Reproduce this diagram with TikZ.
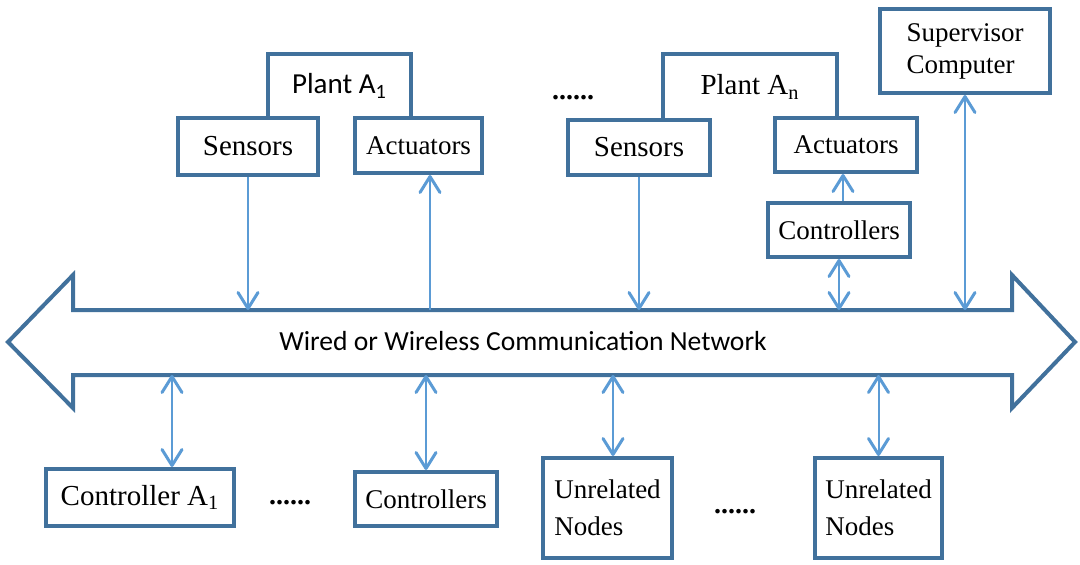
\documentclass[tikz,border=0pt]{standalone}
\usepackage{fontspec}
\setmainfont{Liberation Serif}
\newfontfamily\calibri{Carlito}
\usetikzlibrary{arrows.meta}
\definecolor{boxblue}{HTML}{41719C}
\definecolor{linkblue}{HTML}{5B9BD5}

\begin{document}
\begin{tikzpicture}[x=0.5pt,y=-0.5pt,
  >={Straight Barb[length=8pt,width=10pt,line width=1.5pt,round]},
  box/.style={draw=boxblue, line width=2pt, fill=white, inner sep=2pt},
  plant/.style={inner sep=2pt},
  big/.style={font=\fontsize{14.5}{17}\selectfont},
  small/.style={font=\fontsize{13.5}{16}\selectfont},
  link/.style={draw=linkblue, line width=1pt},
  dots/.style={font=\bfseries\fontsize{14}{16}\selectfont}]
\useasboundingbox (0,0) rectangle (1080,564);

% network
\draw[boxblue, line width=2pt, fill=white]
  (8,342) -- (73,275) -- (73,310) -- (1012,310) -- (1012,275) -- (1075,342)
  -- (1012,408) -- (1012,375) -- (73,375) -- (73,408) -- cycle;
\node[font=\calibri\fontsize{13.8}{16}\selectfont] (net) at (523,341) {Wired or Wireless Communication Network};
\coordinate (nettop) at (540,310);
\coordinate (netbot) at (540,375);

% plants
\node[plant, font=\calibri\fontsize{14.5}{17}\selectfont, minimum width=71.5pt, minimum height=32pt] (plA1) at (339.5,86) {Plant A\textsubscript{1}};
\draw[boxblue, line width=2pt] (plA1.south west) -- (plA1.north west) -- (plA1.north east) -- (plA1.south east);
\node[plant, big, minimum width=87pt, minimum height=33pt] (plAn) at (750,87) {Plant A\textsubscript{n}};
\draw[boxblue, line width=2pt] (plAn.south west) -- (plAn.north west) -- (plAn.north east) -- (plAn.south east);

\node[box, big, minimum width=70pt, minimum height=28.5pt] (senA1) at (248,146.5) {Sensors};
\node[box, small, minimum width=63.5pt, minimum height=27.5pt] (actA1) at (418.5,145.5) {Actuators};
\node[box, big, minimum width=71pt, minimum height=27.5pt] (senAn) at (639,147.5) {Sensors};
\node[box, small, minimum width=71pt, minimum height=27pt] (actAn) at (846,145) {Actuators};
\node[box, small, minimum width=71pt, minimum height=27pt] (ctrlT) at (839,230) {Controllers};
\node[box, small, align=left, minimum width=85pt, minimum height=42pt] (sup) at (965,51) {Supervisor\\Computer};

\node[dots] (dotsT) at (573,98) {......};

% bottom row
\node[box, big, minimum width=94pt, minimum height=28.5pt] (ctrlA1) at (140,497.5) {Controller A\textsubscript{1}};
\node[box, small, minimum width=71pt, minimum height=27pt] (ctrlB) at (426,499) {Controllers};
\node[box, small, align=left, font=\fontsize{13.5}{18.5}\selectfont, minimum width=64.5pt, minimum height=50pt] (unr1) at (607.5,508) {Unrelated\\Nodes};
\node[box, small, align=left, font=\fontsize{13.5}{18.5}\selectfont, minimum width=63.5pt, minimum height=50pt] (unr2) at (878.5,508) {Unrelated\\Nodes};
\node[dots] (dotsL) at (290,503) {......};
\node[dots] (dotsR) at (735,512) {......};

% links
\coordinate (a1) at ([xshift=5.75pt]actA1.south);
\coordinate (c1) at ([xshift=16pt]ctrlA1.north);
\coordinate (u1) at ([xshift=2.75pt]unr1.north);
\coordinate (ct) at ([xshift=2pt]ctrlT.north);
\draw[link,->] (senA1.south) -- (senA1.south |- nettop);
\draw[link,->] (a1 |- nettop) -- (a1);
\draw[link,->] (senAn.south) -- (senAn.south |- nettop);
\draw[link,->] (ct) -- (ct |- actAn.south);
\draw[link,<->] (ctrlT.south) -- (ctrlT.south |- nettop);
\draw[link,<->] (sup.south) -- (sup.south |- nettop);
\draw[link,<->] (c1 |- netbot) -- (c1);
\draw[link,<->] (ctrlB.north |- netbot) -- (ctrlB.north);
\draw[link,<->] (u1 |- netbot) -- (u1);
\draw[link,<->] (unr2.north |- netbot) -- (unr2.north);
\end{tikzpicture}
\end{document}
